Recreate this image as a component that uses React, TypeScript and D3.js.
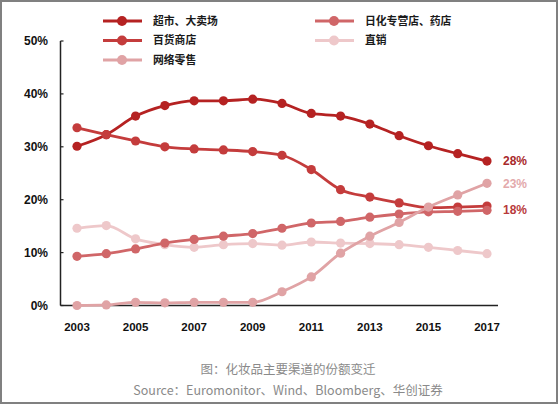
import React from "react";
import * as d3 from "d3";

const years = [2003, 2004, 2005, 2006, 2007, 2008, 2009, 2010, 2011, 2012, 2013, 2014, 2015, 2016, 2017];
const supermarket = [30.1, 32.3, 35.8, 37.8, 38.7, 38.7, 39.0, 38.2, 36.3, 35.8, 34.3, 32.1, 30.2, 28.7, 27.3];
const department = [33.6, 32.3, 31.1, 30.0, 29.6, 29.4, 29.1, 28.4, 25.7, 21.9, 20.5, 19.4, 18.5, 18.6, 18.8];
const drugstore = [9.3, 9.8, 10.7, 11.8, 12.5, 13.1, 13.6, 14.6, 15.6, 15.9, 16.7, 17.3, 17.7, 17.8, 18.0];
const direct = [14.6, 15.1, 12.6, 11.5, 11.0, 11.5, 11.7, 11.4, 12.0, 11.8, 11.7, 11.5, 11.0, 10.4, 9.8];
const online = [0.0, 0.1, 0.6, 0.5, 0.6, 0.6, 0.6, 2.6, 5.4, 9.9, 13.1, 15.7, 18.6, 20.9, 23.1];
const yTicks = [0, 10, 20, 30, 40, 50];
const xTickYears = [2003, 2005, 2007, 2009, 2011, 2013, 2015, 2017];
const endLabels = [
  { text: "28%", value: 27.3, color: "#A8292B" },
  { text: "23%", value: 23.1, color: "#E3A9AB" },
  { text: "18%", value: 18.2, color: "#B83A3C" },
];

const series = [
  { name: "直销", values: direct, color: "#EEC8CA", col: 1, row: 1 },
  { name: "超市、大卖场", values: supermarket, color: "#B52222", col: 0, row: 0 },
  { name: "百货商店", values: department, color: "#C43C3C", col: 0, row: 1 },
  { name: "日化专营店、药店", values: drugstore, color: "#D06668", col: 1, row: 0 },
  { name: "网络零售", values: online, color: "#E0A3A5", col: 0, row: 2 },
];

const numFont = "'Liberation Sans', Arial, sans-serif";
const cjkFont = "'Noto Sans CJK SC', sans-serif";

export default function App() {
  const x = d3.scaleLinear().domain([2003, 2017]).range([77, 487]);
  const y = d3.scaleLinear().domain([0, 50]).range([305.5, 41]);
  const line = d3
    .line<number>()
    .x((_, i) => x(years[i]))
    .y((v) => y(v))
    .curve(d3.curveMonotoneX);

  const legendX = [103, 315];
  const legendY = [21, 40.5, 60];

  return (
    <svg
      width={558}
      height={404}
      style={{ position: "absolute", left: 0, top: 0, background: "#fff" }}
    >
      <rect x={0} y={0} width={558} height={404} fill="#fff" />
      <rect x={1} y={1} width={556} height={402} fill="none" stroke="#808080" strokeWidth={2} />

      {/* legend */}
      {series.map((s) => {
        const lx = legendX[s.col];
        const ly = legendY[s.row];
        return (
          <g key={"lg" + s.name}>
            <line x1={lx} x2={lx + 39} y1={ly} y2={ly} stroke={s.color} strokeWidth={3} />
            <circle cx={lx + 19} cy={ly} r={5} fill={s.color} />
            <text
              x={lx + 50}
              y={ly}
              dy="0.36em"
              fontFamily={cjkFont}
              fontWeight={700}
              fontSize={10.8}
              fill="#1a1a1a"
            >
              {s.name}
            </text>
          </g>
        );
      })}

      {/* y axis */}
      <line x1={60.5} x2={60.5} y1={y(50)} y2={y(0)} stroke="#222" strokeWidth={1.5} />
      {yTicks.map((t) => (
        <g key={"yt" + t}>
          <line x1={60.5} x2={63.5} y1={y(t)} y2={y(t)} stroke="#222" strokeWidth={1.2} />
          <text
            x={48}
            y={y(t)}
            dy="0.36em"
            textAnchor="end"
            fontFamily={numFont}
            fontWeight={700}
            fontSize={12}
            fill="#111"
          >
            {t + "%"}
          </text>
        </g>
      ))}

      {/* x axis */}
      <line x1={60.5} x2={498} y1={y(0)} y2={y(0)} stroke="#222" strokeWidth={1.5} />
      {xTickYears.map((yr) => (
        <text
          key={"xt" + yr}
          x={x(yr)}
          y={327}
          dy="0.36em"
          textAnchor="middle"
          fontFamily={numFont}
          fontWeight={700}
          fontSize={11.5}
          fill="#111"
        >
          {yr}
        </text>
      ))}

      {/* series */}
      {series.map((s) => (
        <g key={"s" + s.name}>
          <path d={line(s.values) || ""} fill="none" stroke={s.color} strokeWidth={2.8} />
          {s.values.map((v, i) => (
            <circle key={i} cx={x(years[i])} cy={y(v)} r={4.6} fill={s.color} />
          ))}
        </g>
      ))}

      {/* end labels */}
      {endLabels.map((l) => (
        <text
          key={l.text}
          x={503}
          y={y(l.value)}
          dy="0.36em"
          fontFamily={numFont}
          fontWeight={700}
          fontSize={12}
          fill={l.color}
        >
          {l.text}
        </text>
      ))}

      {/* caption */}
      <text
        x={288}
        y={369.5}
        dy="0.36em"
        textAnchor="middle"
        fontFamily={cjkFont}
        fontSize={12.5}
        fill="#8a8a8a"
      >
        图：化妆品主要渠道的份额变迁
      </text>
      <text
        x={288}
        y={390}
        dy="0.36em"
        textAnchor="middle"
        fontFamily={cjkFont}
        fontSize={12.5}
        fill="#8a8a8a"
      >
        Source：Euromonitor、Wind、Bloomberg、华创证券
      </text>
    </svg>
  );
}
